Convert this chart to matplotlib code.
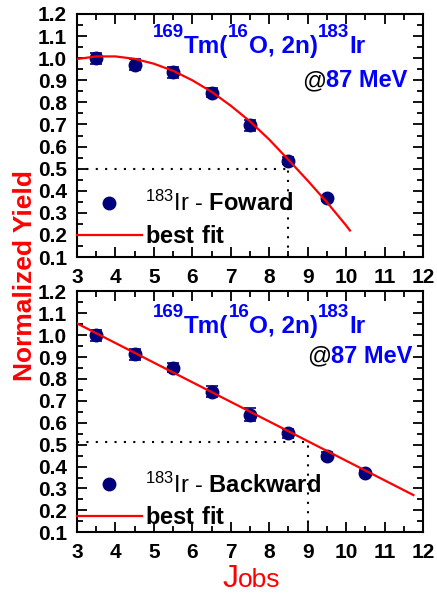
import numpy as np
import matplotlib
matplotlib.use("Agg")
import matplotlib.pyplot as plt
from matplotlib.ticker import MultipleLocator
from matplotlib.lines import Line2D

plt.rcParams['font.family'] = ['Liberation Sans', 'DejaVu Sans']
plt.rcParams['mathtext.fontset'] = 'custom'
plt.rcParams['mathtext.rm'] = 'Liberation Sans'
plt.rcParams['mathtext.bf'] = 'Liberation Sans:bold'
plt.rcParams['mathtext.default'] = 'regular'

# forward data
j_fwd = [3.5, 4.5, 5.5, 6.5, 7.5, 8.5, 9.5]
y_fwd = [1.000, 0.970, 0.936, 0.844, 0.697, 0.536, 0.365]
e_fwd = [0.025, 0.025, 0.025, 0.020, 0.025, 0.015, 0.012]
# best fit curve
fit_fwd_x = [3.0, 3.5, 4.0, 4.5, 5.0, 5.5, 6.0, 6.5, 7.0, 7.5, 8.0, 8.5, 9.0, 9.5, 10.0, 10.1]
fit_fwd_y = [0.996, 1.008, 1.008, 0.997, 0.975, 0.943, 0.900, 0.848, 0.785, 0.714,
             0.632, 0.540, 0.446, 0.348, 0.243, 0.220]
half_fwd = (8.5, 0.5)

# backward data
j_bwd = [3.5, 4.5, 5.5, 6.5, 7.5, 8.5, 9.5, 10.5]
y_bwd = [1.000, 0.913, 0.852, 0.742, 0.636, 0.552, 0.450, 0.372]
e_bwd = [0.025, 0.025, 0.020, 0.025, 0.030, 0.020, 0.015, 0.012]
fit_bwd_x = [3.0, 11.75]
fit_bwd_y = [1.054, 0.270]
half_bwd = (9.0, 0.512)

xticks = list(range(3, 13))
yticks = [0.1, 0.2, 0.3, 0.4, 0.5, 0.6, 0.7, 0.8, 0.9, 1.0, 1.1, 1.2]

# reaction label pieces: (text, is superscript)
reaction = [('169', True), ('Tm(', False), ('16', True), ('O, 2n)', False),
            ('183', True), ('Ir', False)]
blue = '#0000ff'
navy = '#00007a'

fig = plt.figure(figsize=(4.37, 5.98), dpi=100)
ax1 = fig.add_axes([0.176, 0.5702, 0.792, 0.4064])
ax2 = fig.add_axes([0.176, 0.1099, 0.792, 0.4028])


def setup(ax):
    ax.set_xlim(3, 12)
    ax.set_ylim(0.1, 1.2)
    ax.set_xticks(xticks)
    ax.set_xticklabels([str(t) for t in xticks])
    ax.set_yticks(yticks)
    ax.set_yticklabels(['%.1f' % t for t in yticks])
    ax.xaxis.set_minor_locator(MultipleLocator(0.5))
    ax.yaxis.set_minor_locator(MultipleLocator(0.05))
    ax.tick_params(which='both', direction='in', top=True, right=True, width=1.3)
    ax.tick_params(which='major', length=7)
    ax.tick_params(which='minor', length=4.5)
    ax.tick_params(axis='x', pad=8)
    ax.tick_params(axis='y', pad=7)
    for lab in ax.get_xticklabels() + ax.get_yticklabels():
        lab.set_fontweight('bold')
        lab.set_fontsize(15)
    for s in ax.spines.values():
        s.set_linewidth(1.5)


def reaction_label(ax, x, y):
    prev = None
    for txt, sup in reaction:
        kw = dict(color=blue, fontweight='bold', ha='left', va='baseline',
                  textcoords='offset points', xytext=(0, 12 if sup else 0),
                  fontsize=13.5 if sup else 17.5)
        if prev is None:
            prev = ax.annotate(txt, xy=(x, y), xycoords='data', **kw)
        else:
            prev = ax.annotate(txt, xy=(1, y), xycoords=(prev, 'data'), **kw)


def panel(ax, x, y, e, fx, fy, half, label, title_xy, mev_xy, leg_y):
    setup(ax)
    ax.plot([3, half[0]], [half[1], half[1]], color='black', ls=(0, (1, 3.5)), lw=1.5)
    ax.plot([half[0], half[0]], [0.1, half[1]], color='black', ls=(0, (1, 3.5)), lw=1.5)
    ax.errorbar(x, y, yerr=e, fmt='o', color=navy, ms=9, capsize=4,
                elinewidth=1.2, capthick=1.2, zorder=3)
    ax.plot(fx, fy, color='red', lw=1.6, zorder=4)
    reaction_label(ax, *title_xy)
    mev = ax.text(mev_xy[0], mev_xy[1], '87 MeV', color=blue, fontsize=17,
                  fontweight='bold', ha='right', va='baseline')
    ax.annotate('@', xy=(0, mev_xy[1]), xycoords=(mev, 'data'), ha='right',
                va='baseline', fontsize=17, color='black')
    handles = [Line2D([], [], ls='none', marker='o', color=navy, ms=9),
               Line2D([], [], color='red', lw=1.6)]
    ax.legend(handles, [label, r"$\mathbf{best\ fit}$"], loc='lower left',
              bbox_to_anchor=(0.0, leg_y), frameon=False, borderpad=0,
              borderaxespad=0, handlelength=2.75, handletextpad=0.15,
              labelspacing=0.42, prop={'size': 17})


panel(ax1, j_fwd, y_fwd, e_fwd, fit_fwd_x, fit_fwd_y, half_fwd,
      r"$^{183}$Ir - $\mathbf{Foward}$", (4.97, 1.022), (11.6, 0.868), 0.036)
panel(ax2, j_bwd, y_bwd, e_bwd, fit_bwd_x, fit_bwd_y, half_bwd,
      r"$^{183}$Ir - $\mathbf{Backward}$", (4.98, 1.009), (11.73, 0.874), 0.012)

fig.text(0.057, 0.539, 'Normalized Yield', rotation=90, color='red', fontsize=19,
         fontweight='bold', ha='center', va='center')
fig.text(0.510, 0.019, 'J', color='red', fontsize=23, ha='left', va='baseline')
fig.text(0.545, 0.019, 'obs', color='red', fontsize=19, ha='left', va='baseline')

fig.savefig('out.png', dpi=100)
